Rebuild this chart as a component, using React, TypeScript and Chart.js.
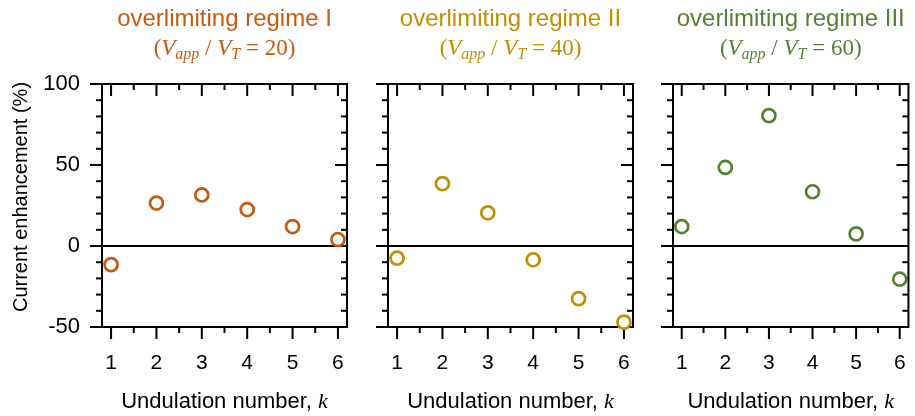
import React, { useEffect, useRef } from "react";
import { Chart, registerables } from "chart.js";

Chart.register(...registerables);

// ---- data ----
const kValues = [1, 2, 3, 4, 5, 6];
const xTickLabels = ["1", "2", "3", "4", "5", "6"];
const yTickValues = [-50, 0, 50, 100];
const regime1 = [-11.5, 26.5, 31.5, 22.5, 12, 4];
const regime2 = [-7.5, 38.5, 20.5, -8.5, -32.5, -47];
const regime3 = [12, 48.5, 80.5, 33.5, 7.5, -20.5];
const seriesList = [regime1, regime2, regime3];
const panelTitles = ["overlimiting regime I", "overlimiting regime II", "overlimiting regime III"];
const voltageRatios = ["20", "40", "60"];
const panelColors = ["#C55A11", "#BF9000", "#548235"];
const yAxisTitle = "Current enhancement (%)";
const xAxisTitle = "Undulation number, ";
const xAxisSymbol = "k";

// ---- layout (not data) ----
const CANVAS_W = 930;
const CANVAS_H = 416;
const PLOT_LEFT = [102, 388, 673];
const PLOT_W = 245;
const PLOT_TOP = 84;
const PLOT_BOTTOM = 327;
const X_AXIS_H = 50;
const SANS = '"Liberation Sans", Arial, sans-serif';
const SERIF = '"Liberation Serif", "Times New Roman", serif';

function line(ctx: CanvasRenderingContext2D, x1: number, y1: number, x2: number, y2: number) {
  ctx.beginPath();
  ctx.moveTo(x1, y1);
  ctx.lineTo(x2, y2);
  ctx.stroke();
}

function drawRuns(
  ctx: CanvasRenderingContext2D,
  cx: number,
  baseline: number,
  runs: { t: string; f: string; dy: number }[]
) {
  let total = 0;
  for (const r of runs) {
    ctx.font = r.f;
    total += ctx.measureText(r.t).width;
  }
  let x = cx - total / 2;
  ctx.textAlign = "left";
  ctx.textBaseline = "alphabetic";
  for (const r of runs) {
    ctx.font = r.f;
    ctx.fillText(r.t, x, baseline + r.dy);
    x += ctx.measureText(r.t).width;
  }
}

function makeFramePlugin(index: number) {
  return {
    id: "frame" + index,
    beforeDatasetsDraw(chart: any) {
      const { ctx, chartArea: a, scales } = chart;
      const xs = scales.x;
      const ys = scales.y;
      ctx.save();
      ctx.strokeStyle = "#000";
      ctx.lineWidth = 2;
      // zero line
      const y0 = ys.getPixelForValue(0);
      line(ctx, a.left, y0, a.right, y0);
      // y ticks (major every 50, minor every 10)
      for (let v = ys.min; v <= ys.max + 1e-9; v += 10) {
        const py = ys.getPixelForValue(v);
        const len = Math.abs(v % 50) < 1e-6 ? 12 : 6;
        line(ctx, a.left - len, py, a.left, py);
        line(ctx, a.right, py, a.right - len, py);
      }
      // x ticks (major at integers, minor at halves)
      for (let v = 1; v <= 6 + 1e-9; v += 0.5) {
        const px = xs.getPixelForValue(v);
        const len = Math.abs(v - Math.round(v)) < 1e-6 ? 12 : 6;
        line(ctx, px, a.bottom, px, a.bottom + len);
        line(ctx, px, a.top, px, a.top + len);
      }
      // frame
      ctx.strokeRect(a.left, a.top, a.right - a.left, a.bottom - a.top);
      ctx.restore();
    },
    afterDraw(chart: any) {
      const { ctx, chartArea: a } = chart;
      const cx = (a.left + a.right) / 2;
      const color = panelColors[index];
      ctx.save();
      // title line 1
      ctx.fillStyle = color;
      ctx.textAlign = "center";
      ctx.textBaseline = "alphabetic";
      ctx.font = `24px ${SANS}`;
      ctx.fillText(panelTitles[index], cx, 26);
      // title line 2
      drawRuns(ctx, cx, 55, [
        { t: "(", f: `23px ${SERIF}`, dy: 0 },
        { t: "V", f: `italic 23px ${SERIF}`, dy: 0 },
        { t: "app", f: `italic 16px ${SERIF}`, dy: 4 },
        { t: " / ", f: `23px ${SERIF}`, dy: 0 },
        { t: "V", f: `italic 23px ${SERIF}`, dy: 0 },
        { t: "T", f: `italic 16px ${SERIF}`, dy: 4 },
        { t: " = " + voltageRatios[index] + ")", f: `23px ${SERIF}`, dy: 0 },
      ]);
      // x axis title
      ctx.fillStyle = "#000";
      drawRuns(ctx, cx, 408, [
        { t: xAxisTitle, f: `22px ${SANS}`, dy: 0 },
        { t: xAxisSymbol, f: `italic 22px ${SERIF}`, dy: 0 },
      ]);
      // y axis title (first panel only)
      if (index === 0) {
        ctx.translate(27, 197);
        ctx.rotate(-Math.PI / 2);
        ctx.textAlign = "center";
        ctx.textBaseline = "alphabetic";
        ctx.font = `20px ${SANS}`;
        ctx.fillText(yAxisTitle, 0, 0);
      }
      ctx.restore();
    },
  };
}

function Panel({ index }: { index: number }) {
  const ref = useRef<HTMLCanvasElement>(null);
  useEffect(() => {
    const canvas = ref.current;
    if (!canvas) return;
    const left = PLOT_LEFT[index];
    const right = left + PLOT_W;
    const yWidth = index === 0 ? left : 10;
    const chart = new Chart(canvas, {
      type: "scatter",
      data: {
        datasets: [
          {
            data: kValues.map((k, j) => ({ x: k, y: seriesList[index][j] })),
            showLine: false,
            pointStyle: "circle",
            pointRadius: 6.5,
            pointHoverRadius: 6.5,
            pointBorderWidth: 2.7,
            borderColor: panelColors[index],
            backgroundColor: "#ffffff",
            clip: false as any,
          },
        ],
      },
      options: {
        responsive: false,
        animation: false,
        devicePixelRatio: 1,
        events: [],
        layout: {
          padding: {
            left: left - yWidth,
            top: PLOT_TOP,
            right: CANVAS_W - right,
            bottom: CANVAS_H - PLOT_BOTTOM - X_AXIS_H,
          },
        },
        plugins: {
          legend: { display: false },
          tooltip: { enabled: false },
          title: { display: false },
        },
        scales: {
          x: {
            type: "linear",
            min: 0.8,
            max: 6.2,
            grid: { display: false, drawTicks: false },
            border: { display: false },
            afterBuildTicks: (s: any) => {
              s.ticks = kValues.map((v) => ({ value: v }));
            },
            ticks: {
              padding: 24,
              color: "#000",
              font: { family: SANS, size: 21 },
              maxRotation: 0,
              autoSkip: false,
              callback: (_v: any, i: number) => xTickLabels[i],
            },
            afterFit: (s: any) => {
              s.height = X_AXIS_H;
            },
          },
          y: {
            type: "linear",
            min: -50,
            max: 100,
            grid: { display: false, drawTicks: false },
            border: { display: false },
            afterBuildTicks: (s: any) => {
              s.ticks = yTickValues.map((v) => ({ value: v }));
            },
            ticks: {
              display: index === 0,
              padding: 22,
              color: "#000",
              font: { family: SANS, size: 22 },
              callback: (v: any) => String(v),
            },
            afterFit: (s: any) => {
              s.width = yWidth;
            },
          },
        },
      },
      plugins: [makeFramePlugin(index)],
    } as any);
    return () => chart.destroy();
  }, [index]);
  return (
    <canvas
      ref={ref}
      width={CANVAS_W}
      height={CANVAS_H}
      style={{ position: "absolute", left: 0, top: 0 }}
    />
  );
}

export default function App() {
  return (
    <div
      style={{
        position: "absolute",
        left: 0,
        top: 0,
        width: 915,
        height: 416,
        overflow: "hidden",
        background: "#ffffff",
      }}
    >
      {[0, 1, 2].map((i) => (
        <Panel key={i} index={i} />
      ))}
    </div>
  );
}
